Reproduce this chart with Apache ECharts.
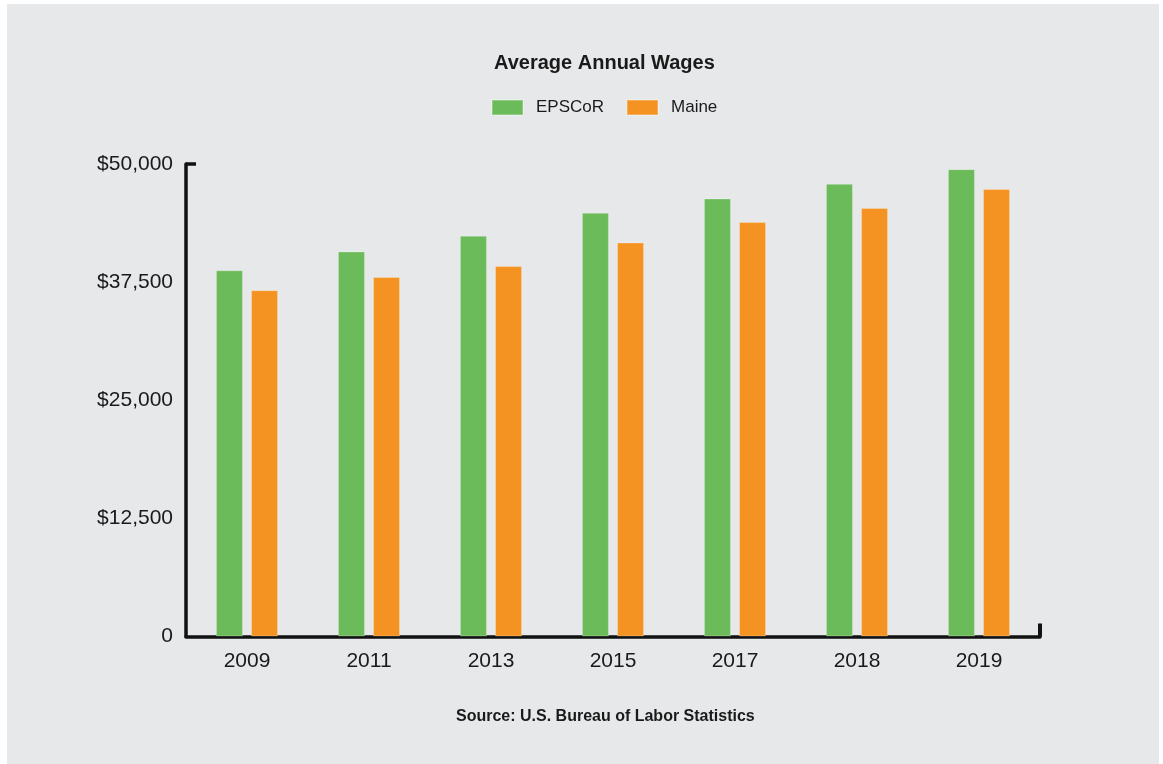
<!DOCTYPE html>
<html>
<head>
<meta charset="utf-8">
<script src="https://cdn.jsdelivr.net/npm/echarts@6/dist/echarts.min.js"></script>
<style>
html,body{margin:0;padding:0;background:#ffffff;width:1163px;height:764px;overflow:hidden;}
#chart{position:absolute;left:7px;top:4px;width:1152px;height:760px;}
</style>
</head>
<body>
<div id="chart"></div>
<script>
const years = ['2009', '2011', '2013', '2015', '2017', '2018', '2019'];
const epscor = [38750, 40750, 42400, 44850, 46350, 47900, 49450];
const maine = [36650, 38050, 39200, 41700, 43850, 45350, 47350];
const yTickValues = [0, 12500, 25000, 37500, 50000];
const yTickLabels = ['0', '$12,500', '$25,000', '$37,500', '$50,000'];

const FONT = "'Liberation Sans', Arial, sans-serif";
const chart = echarts.init(document.getElementById('chart'), null, {renderer: 'canvas'});
chart.setOption({
  backgroundColor: '#e7e8ea',
  animation: false,
  title: [
    {text: 'Average Annual Wages', left: 482, top: 44,
     textStyle: {fontFamily: FONT, fontSize: 20, fontWeight: 'bold', color: '#1a1a1a'}},
    {text: 'Source: U.S. Bureau of Labor Statistics', left: 444, top: 700,
     textStyle: {fontFamily: FONT, fontSize: 16, fontWeight: 'bold', color: '#1a1a1a'}}
  ],
  legend: {
    left: 479, top: 90,
    itemWidth: 31, itemHeight: 15, itemGap: 22,
    icon: 'rect',
    textStyle: {fontFamily: FONT, fontSize: 17, color: '#1a1a1a', padding: [0, 0, 0, 8]},
    data: ['EPSCoR', 'Maine']
  },
  grid: {left: 179, right: 119, top: 160, bottom: 127.5, containLabel: false},
  xAxis: [
    {
      type: 'category',
      data: years,
      axisLine: {show: true, lineStyle: {color: '#111', width: 3.5}},
      axisTick: {show: false},
      axisLabel: {fontFamily: FONT, fontSize: 21, color: '#1a1a1a', margin: 14}
    },
    {
      type: 'value', min: 0, max: 1, position: 'bottom',
      axisLine: {show: false},
      axisTick: {show: true, inside: true, length: 13, customValues: [1],
                 lineStyle: {color: '#111', width: 4}},
      axisLabel: {show: false},
      splitLine: {show: false}
    }
  ],
  yAxis: {
    type: 'value',
    min: 0, max: 50000, interval: 12500,
    axisLine: {show: true, lineStyle: {color: '#111', width: 3.5}},
    axisTick: {show: true, inside: true, length: 10, lineStyle: {color: '#111', width: 3.5},
               customValues: [50000]},
    splitLine: {show: false},
    axisLabel: {fontFamily: FONT, fontSize: 21, color: '#1a1a1a', margin: 13,
                formatter: function (v) { const i = yTickValues.indexOf(v); return i >= 0 ? yTickLabels[i] : ''; }}
  },
  series: [
    {name: 'EPSCoR', type: 'bar', xAxisIndex: 0, data: epscor, barWidth: 27, barGap: '30%',
     itemStyle: {color: '#6cbb5a', borderColor: 'rgba(255,255,255,0.25)', borderWidth: 1}},
    {name: 'Maine', type: 'bar', xAxisIndex: 0, data: maine, barWidth: 27,
     itemStyle: {color: '#f59322', borderColor: 'rgba(255,255,255,0.25)', borderWidth: 1}}
  ]
});
</script>
</body>
</html>
